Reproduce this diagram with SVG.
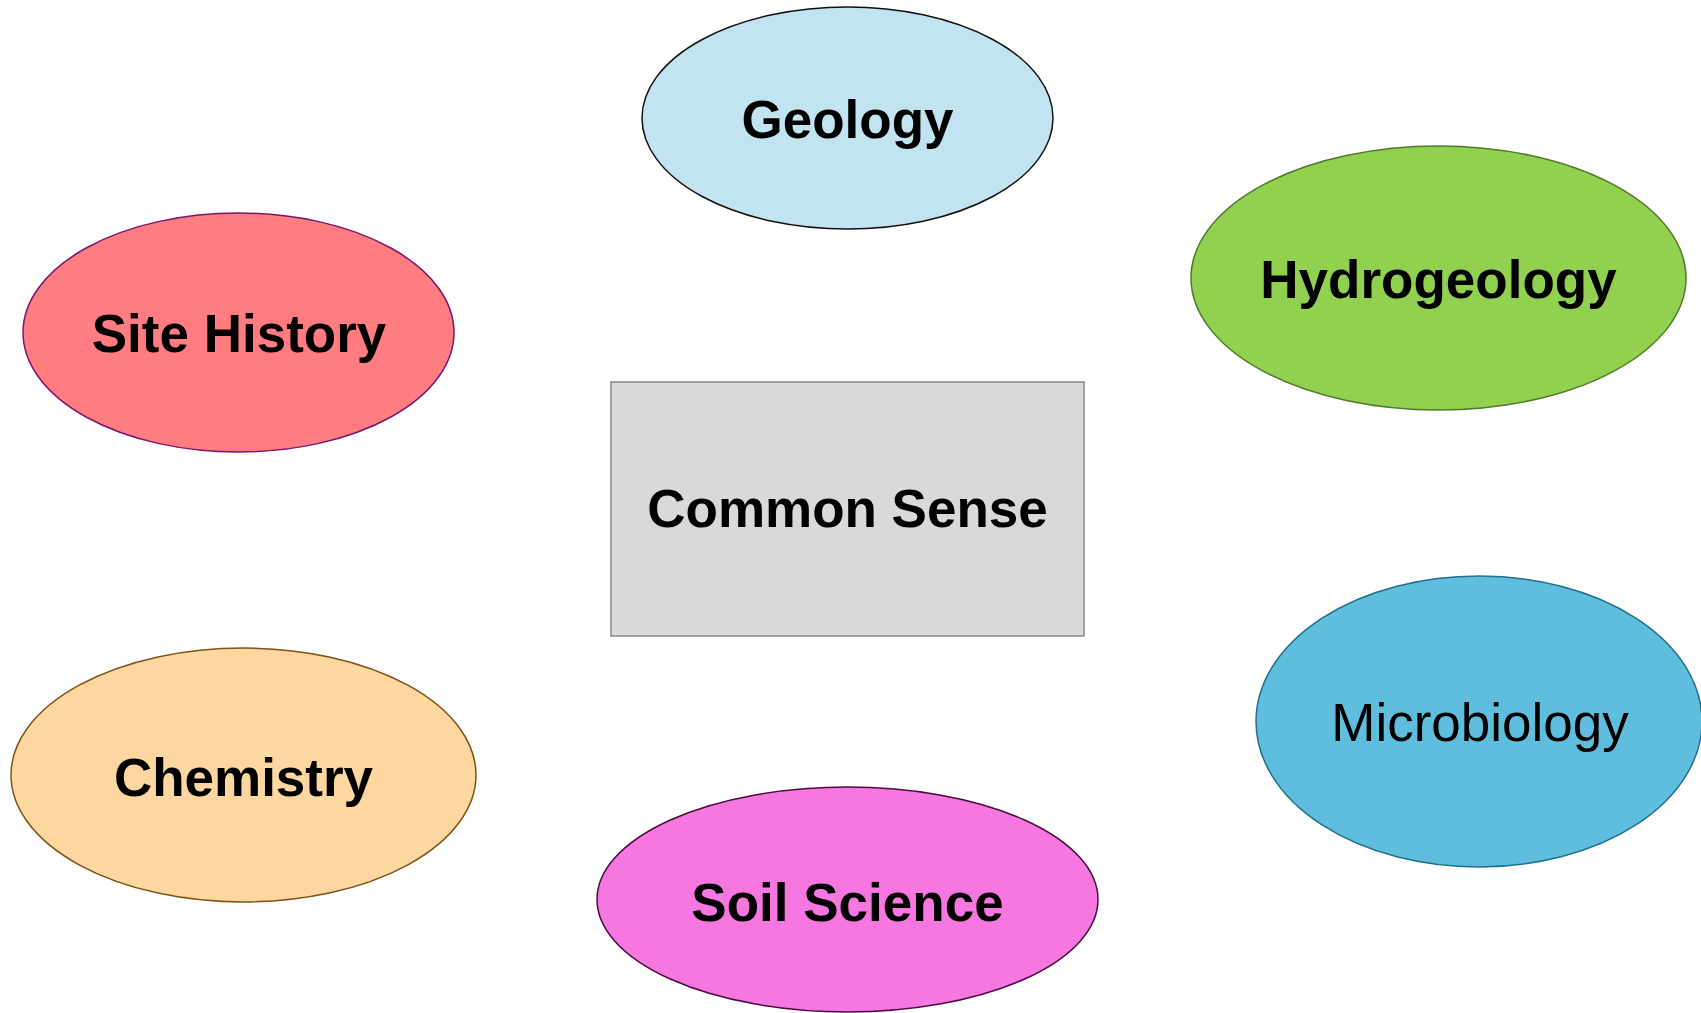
<svg xmlns="http://www.w3.org/2000/svg" width="1701" height="1013" viewBox="0 0 1701 1013">
<style>
text{font-family:"Liberation Sans",Arial,sans-serif;font-size:53px;fill:#000;text-anchor:middle}
.b{font-weight:bold}
ellipse,rect{stroke-width:1.5}
</style>
<rect width="1701" height="1013" fill="#fff"/>
<g id="connectors"></g>
<g id="geology"><ellipse cx="847.5" cy="118" rx="205.5" ry="111" fill="#c1e4f0" stroke="#111"/><text class="b" x="847.5" y="138">Geology</text></g>
<g id="hydrogeology"><ellipse cx="1438.5" cy="278" rx="247.5" ry="132" fill="#92d050" stroke="#4f7a28"/><text class="b" x="1438.5" y="298">Hydrogeology</text></g>
<g id="site-history"><ellipse cx="238.5" cy="332.5" rx="215.5" ry="119.5" fill="#ff7c80" stroke="#7a1670"/><text class="b" x="239" y="352">Site History</text></g>
<g id="common-sense"><rect x="611" y="382" width="473" height="254" fill="#d9d9d9" stroke="#888"/><text class="b" x="847.5" y="527">Common Sense</text></g>
<g id="microbiology"><ellipse cx="1479" cy="721.5" rx="223" ry="145.5" fill="#5fbede" stroke="#206f8c"/><text x="1480" y="741">Microbiology</text></g>
<g id="chemistry"><ellipse cx="243.5" cy="775" rx="232.5" ry="127" fill="#fdd7a0" stroke="#7f5215"/><text class="b" x="243.5" y="796">Chemistry</text></g>
<g id="soil-science"><ellipse cx="847.5" cy="899.5" rx="250.5" ry="112.5" fill="#f777e0" stroke="#4a0c40"/><text class="b" x="847.5" y="921">Soil Science</text></g>
</svg>
